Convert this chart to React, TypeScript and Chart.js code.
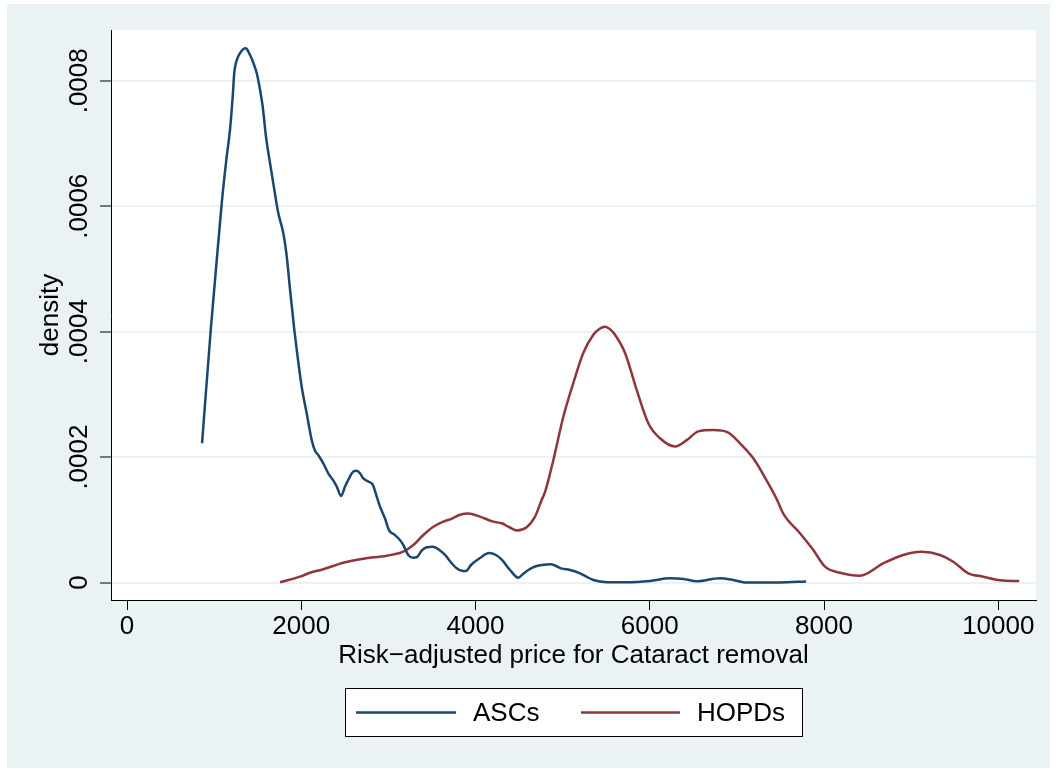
import React, { useEffect, useRef } from "react";
import { Chart, registerables } from "chart.js";

Chart.register(...registerables);

// Kernel density estimates of the risk-adjusted price, by facility type
const ascPrice = [
  861, 961, 1010, 1087, 1144, 1182, 1213, 1231, 1251, 1277, 1316, 1354, 1374, 1412, 1443, 1489,
  1526, 1557, 1595, 1641, 1691, 1736, 1794, 1833, 1871, 1920, 1948, 2005, 2062, 2120, 2158, 2196,
  2253, 2310, 2361, 2407, 2456, 2502, 2559, 2597, 2636, 2674, 2712, 2769, 2820, 2866, 2904, 2961,
  3010, 3064, 3125, 3171, 3228, 3282, 3325, 3382, 3440, 3512, 3573, 3650, 3727, 3784, 3841, 3891,
  3948, 4051, 4155, 4235, 4304, 4396, 4491, 4545, 4606, 4683, 4763, 4863, 4924, 4981, 5084, 5199,
  5268, 5352, 5505, 5735, 6002, 6232, 6385, 6538, 6806, 6958, 7093, 7494, 7793,
];
const ascDensity = [
  0.000222, 0.000403, 0.000482, 0.000605, 0.000679, 0.000722, 0.000775, 0.000813, 0.000829,
  0.000839, 0.000848, 0.000852, 0.000851, 0.000841, 0.000831, 0.000812, 0.000786, 0.000759,
  0.000711, 0.000669, 0.000626, 0.000589, 0.000557, 0.00052, 0.000467, 0.000403, 0.000371,
  0.000312, 0.00027, 0.000227, 0.00021, 0.000203, 0.00019, 0.000174, 0.000164, 0.000153,
  0.000138, 0.000153, 0.000169, 0.000177, 0.000178, 0.000174, 0.000166, 0.000161, 0.000156,
  0.000137, 0.000121, 0.000102, 0.0000826, 0.0000769, 0.0000689, 0.0000598, 0.0000439,
  0.0000396, 0.0000402, 0.0000507, 0.0000561, 0.0000571, 0.000053, 0.0000439, 0.0000306,
  0.0000226, 0.0000188, 0.0000183, 0.0000279, 0.0000391, 0.000047, 0.0000439, 0.0000359,
  0.0000199, 0.0000077, 0.0000136, 0.0000199, 0.0000255, 0.0000279, 0.000029, 0.0000263,
  0.0000226, 0.0000199, 0.0000147, 0.0000096, 0.000004, 0.0000005, 0.0000003, 0.0000024,
  0.0000067, 0.0000056, 0.0000019, 0.0000067, 0.000004, 0.0000002, 0.0000002, 0.0000016,
];

const hopdPrice = [
  1756, 1986, 2100, 2253, 2482, 2712, 2981, 3171, 3286, 3401, 3512, 3630, 3730, 3822, 3917, 4051,
  4204, 4300, 4384, 4476, 4587, 4683, 4760, 4797, 4893, 5007, 5122, 5237, 5352, 5429, 5486, 5543,
  5601, 5716, 5850, 5983, 6117, 6289, 6424, 6557, 6729, 6901, 7035, 7188, 7360, 7460, 7532, 7724,
  7877, 8011, 8183, 8413, 8680, 8910, 9121, 9331, 9483, 9656, 9828, 10019, 10241,
];
const hopdDensity = [
  0.0000003, 0.0000093, 0.0000156, 0.0000211, 0.0000316, 0.000038, 0.0000427, 0.0000491,
  0.0000598, 0.0000758, 0.0000885, 0.000097, 0.000102, 0.000108, 0.00011, 0.000105, 0.000097,
  0.0000944, 0.0000885, 0.0000829, 0.000088, 0.000105, 0.000132, 0.000144, 0.000195, 0.000264,
  0.000318, 0.000366, 0.000395, 0.000405, 0.000408, 0.000404, 0.000395, 0.000366, 0.000307,
  0.000254, 0.00023, 0.000217, 0.000227, 0.000241, 0.000243, 0.000239, 0.000222, 0.000198,
  0.000158, 0.000132, 0.00011, 0.0000785, 0.0000518, 0.0000252, 0.0000156, 0.0000108, 0.0000306,
  0.0000439, 0.0000491, 0.0000439, 0.0000332, 0.0000147, 0.0000093, 0.0000035, 0.0000024,
];

const seriesNames = ["ASCs", "HOPDs"];
const seriesColors = ["#1A476F", "#90353B"];

const xTicks = [0, 2000, 4000, 6000, 8000, 10000];
const xTickLabels = ["0", "2000", "4000", "6000", "8000", "10000"];
const yTicks = [0, 0.0002, 0.0004, 0.0006, 0.0008];
const yTickLabels = ["0", ".0002", ".0004", ".0006", ".0008"];

const xTitle = "Risk\u2212adjusted price for Cataract removal";
const yTitle = "density";

const FONT = "'Liberation Sans', Arial, Helvetica, sans-serif";
const FONT_SIZE = 26;
const BG = "#EAF2F3";

const pairs = (xs: number[], ys: number[]) => xs.map((x, i) => ({ x, y: ys[i] }));

// Page background, plot region, rotated y labels, titles and the boxed legend
const stataFrame = {
  id: "stataFrame",
  beforeDraw(chart: any) {
    const { ctx, chartArea } = chart;
    ctx.save();
    ctx.fillStyle = "#ffffff";
    ctx.fillRect(0, 0, chart.width, chart.height);
    ctx.fillStyle = BG;
    ctx.fillRect(7, 4, 1043, 764);
    ctx.fillStyle = "#ffffff";
    ctx.fillRect(chartArea.left, chartArea.top, chartArea.right - chartArea.left, chartArea.bottom - chartArea.top);
    ctx.restore();
  },
  afterDraw(chart: any) {
    const { ctx, chartArea } = chart;
    const yScale = chart.scales.y;
    ctx.save();
    ctx.fillStyle = "#000";
    ctx.font = `${FONT_SIZE}px ${FONT}`;
    ctx.textAlign = "center";
    ctx.textBaseline = "alphabetic";
    yTicks.forEach((v, i) => {
      const py = yScale.getPixelForValue(v);
      ctx.save();
      ctx.translate(87, py);
      ctx.rotate(-Math.PI / 2);
      ctx.fillText(yTickLabels[i], 0, 0);
      ctx.restore();
    });

    // axis titles
    const midY = (chartArea.top + chartArea.bottom) / 2;
    ctx.save();
    ctx.translate(58, midY);
    ctx.rotate(-Math.PI / 2);
    ctx.fillText(yTitle, 0, 0);
    ctx.restore();
    const midX = (chartArea.left + chartArea.right) / 2;
    ctx.fillText(xTitle, midX, 663);

    // legend
    const box = { x: 345.5, y: 688.5, w: 457, h: 48 };
    ctx.fillStyle = "#ffffff";
    ctx.fillRect(box.x, box.y, box.w, box.h);
    ctx.strokeStyle = "#000";
    ctx.lineWidth = 1;
    ctx.strokeRect(box.x, box.y, box.w, box.h);
    const entries = [
      { x0: 356, x1: 456, tx: 473 },
      { x0: 581, x1: 680, tx: 697 },
    ];
    chart.data.datasets.forEach((ds: any, i: number) => {
      const e = entries[i];
      const ly = 712.5;
      ctx.strokeStyle = ds.borderColor;
      ctx.lineWidth = 2.5;
      ctx.beginPath();
      ctx.moveTo(e.x0, ly);
      ctx.lineTo(e.x1, ly);
      ctx.stroke();
      ctx.fillStyle = "#000";
      ctx.textAlign = "left";
      ctx.fillText(ds.label, e.tx, 721);
    });
    ctx.restore();
  },
};

export default function App() {
  const canvasRef = useRef<HTMLCanvasElement | null>(null);

  useEffect(() => {
    if (!canvasRef.current) return;
    const chart = new Chart(canvasRef.current, {
      type: "line",
      data: {
        datasets: [
          {
            label: seriesNames[0],
            data: pairs(ascPrice, ascDensity),
            borderColor: seriesColors[0],
            borderWidth: 2.5,
            pointRadius: 0,
            cubicInterpolationMode: "monotone",
            fill: false,
          },
          {
            label: seriesNames[1],
            data: pairs(hopdPrice, hopdDensity),
            borderColor: seriesColors[1],
            borderWidth: 2.5,
            pointRadius: 0,
            cubicInterpolationMode: "monotone",
            fill: false,
          },
        ],
      },
      options: {
        responsive: false,
        animation: false,
        devicePixelRatio: 1,
        layout: { padding: { left: 0, top: 30, right: 22, bottom: 0 } },
        plugins: {
          legend: { display: false },
          tooltip: { enabled: false },
          title: { display: false },
        },
        scales: {
          x: {
            type: "linear",
            min: -184,
            max: 10433,
            afterBuildTicks: (scale: any) => {
              scale.ticks = xTicks.map((v) => ({ value: v }));
            },
            afterFit: (scale: any) => {
              scale.height = 169;
            },
            ticks: {
              autoSkip: false,
              maxRotation: 0,
              minRotation: 0,
              padding: 1,
              color: "#000",
              font: { family: FONT, size: FONT_SIZE },
              callback: (v: any) => {
                const i = xTicks.indexOf(Number(v));
                return i >= 0 ? xTickLabels[i] : "";
              },
            },
            grid: {
              drawOnChartArea: false,
              drawTicks: true,
              tickLength: 10,
              tickColor: "#000",
              tickWidth: 1,
            },
            border: { display: true, color: "#000", width: 1 },
          },
          y: {
            type: "linear",
            min: -0.0000279,
            max: 0.000881,
            afterBuildTicks: (scale: any) => {
              scale.ticks = yTicks.map((v) => ({ value: v }));
            },
            afterFit: (scale: any) => {
              scale.width = 111;
            },
            ticks: { display: false },
            grid: {
              color: BG,
              lineWidth: 2,
              drawTicks: true,
              tickLength: 11,
              tickColor: "#000",
              tickWidth: 1,
            },
            border: { display: true, color: "#000", width: 1 },
          },
        },
      },
      plugins: [stataFrame],
    });
    return () => chart.destroy();
  }, []);

  return (
    <div style={{ position: "fixed", left: 0, top: 0, width: 1058, height: 769 }}>
      <canvas ref={canvasRef} width={1058} height={769} style={{ display: "block" }} />
    </div>
  );
}
